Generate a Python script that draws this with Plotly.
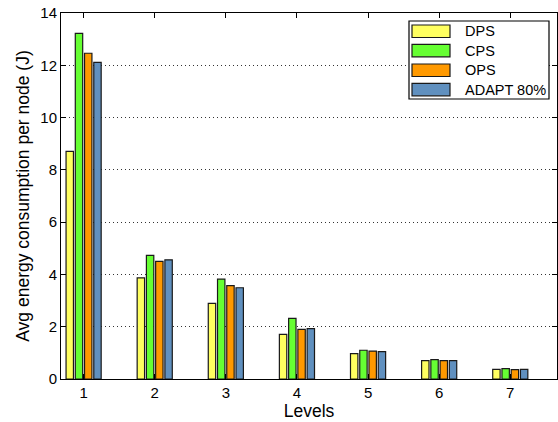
import plotly.graph_objects as go

# Energy per node at each level for four schemes
levels = [1, 2, 3, 4, 5, 6, 7]
dps = [8.71, 3.87, 2.89, 1.71, 0.97, 0.70, 0.37]
cps = [13.22, 4.73, 3.82, 2.32, 1.10, 0.74, 0.40]
ops = [12.46, 4.50, 3.57, 1.90, 1.07, 0.70, 0.36]
adapt = [12.11, 4.56, 3.49, 1.93, 1.05, 0.70, 0.37]

names = ["DPS", "CPS", "OPS", "ADAPT 80%"]
colors = ["#FFFF60", "#66FF33", "#FF9900", "#6090BF"]
series = [dps, cps, ops, adapt]

W, H = 558, 422
ML, MR, MT, MB = 61, 1, 13, 43
font = "Liberation Sans, Arial, sans-serif"

fig = go.Figure()
for name, col, vals in zip(names, colors, series):
    fig.add_trace(go.Bar(
        x=levels, y=vals, name=name,
        marker=dict(color=col, line=dict(color="#1a1a1a", width=1.2)),
        showlegend=False,
    ))

# Legend drawn as a framed box with wide colour swatches
pw = W - ML - MR
ph = H - MT - MB
def px(x):
    return (x - ML) / pw
def py(y):
    return (H - MB - y) / ph

shapes = [dict(type="rect", xref="paper", yref="paper",
               x0=px(409), x1=px(549), y0=py(99), y1=py(21),
               line=dict(color="black", width=1.2), fillcolor="white", layer="above")]
annotations = []
row_top = [25, 44.3, 64, 83.3]
for i, (name, col) in enumerate(zip(names, colors)):
    t = row_top[i]
    shapes.append(dict(type="rect", xref="paper", yref="paper",
                       x0=px(412), x1=px(450), y0=py(t + 12.5), y1=py(t),
                       line=dict(color="#1a1a1a", width=1.2), fillcolor=col, layer="above"))
    annotations.append(dict(xref="paper", yref="paper", x=px(463), y=py(t + 6.3),
                            text=name, showarrow=False, xanchor="left", yanchor="middle",
                            font=dict(family=font, size=14.5, color="black")))

fig.update_layout(
    width=W, height=H,
    margin=dict(l=ML, r=MR, t=MT, b=MB),
    paper_bgcolor="white", plot_bgcolor="white",
    barmode="group", bargap=0.48, bargroupgap=0.2,
    font=dict(family=font, size=15, color="black"),
    shapes=shapes, annotations=annotations,
    showlegend=False,
)
fig.update_xaxes(
    range=[0.682, 7.657], tickvals=levels, ticktext=[str(v) for v in levels],
    ticks="inside", ticklen=5, tickcolor="black", mirror="ticks",
    showline=True, linecolor="black", linewidth=1,
    showgrid=False, zeroline=False,
    tickfont=dict(size=15),
    title=dict(text="Levels", font=dict(size=17.5), standoff=4),
)
fig.update_yaxes(
    range=[0, 14], dtick=2,
    ticks="inside", ticklen=5, tickcolor="black", mirror="ticks",
    showline=True, linecolor="black", linewidth=1,
    showgrid=True, gridcolor="#333333", griddash="1px,3px", gridwidth=1,
    zeroline=False,
    tickfont=dict(size=15),
    title=dict(text="Avg energy consumption per node (J)", font=dict(size=17.5), standoff=6),
)

fig.write_html("out.html")
